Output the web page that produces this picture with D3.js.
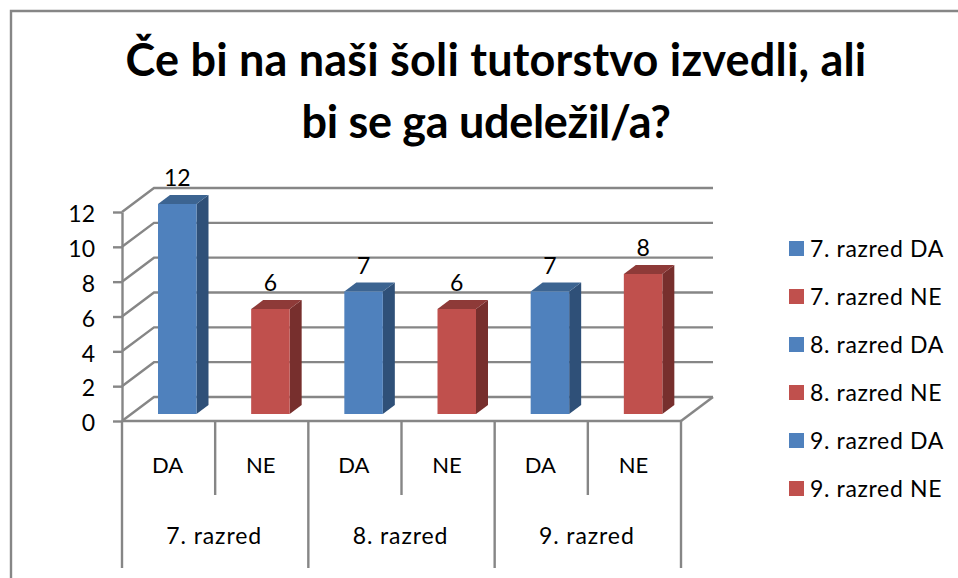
<!DOCTYPE html>
<html>
<head>
<meta charset="utf-8">
<script src="https://cdn.jsdelivr.net/npm/d3@7"></script>
<style>
    html, body { margin: 0; padding: 0; background: #fff; }
    svg { display: block; }
    text { font-family: Lato, "Open Sans", sans-serif; fill: #000; }
    .title { font-size: 45px; font-weight: 700; text-anchor: middle; }
    .lbl { font-size: 23px; text-anchor: middle; }
    .grade { letter-spacing: 0.9px; }
    .answer { font-size: 22px; }
    .leg { font-size: 23px; letter-spacing: 0.65px; }
    .grid, .frame, .xline { stroke: #868686; stroke-width: 2.4; fill: none; }
    .y-axis text { font-size: 23px; }
    .y-axis line, .y-axis path { stroke: #868686; stroke-width: 2.4; }
</style>
</head>
<body>
<svg id="chart" width="958" height="578"></svg>
<script>
var titleLines = ["Če bi na naši šoli tutorstvo izvedli, ali", "bi se ga udeležil/a?"];
var grades = ["7. razred", "8. razred", "9. razred"];
var answers = ["DA", "NE", "DA", "NE", "DA", "NE"];
var seriesNames = ["7. razred DA", "7. razred NE", "8. razred DA", "8. razred NE", "9. razred DA", "9. razred NE"];
var values = [12, 6, 7, 6, 7, 8];
var yTicks = [0, 2, 4, 6, 8, 10, 12];

var colors = {
    DA: {front: "#4f81bd", top: "#3c6491", side: "#2f5078"},
    NE: {front: "#c0504d", top: "#8e3a38", side: "#772f2d"}
};

var svg = d3.select("#chart");

// outer frame, only top and left are inside the crop
svg.append("path").attr("class", "frame").attr("d", "M11,578V11H958");

svg.selectAll(".title")
    .data(titleLines)
    .enter().append("text")
    .attr("class", "title")
    .attr("x", function (d, i) { return i ? 486 : 496; })
    .attr("y", function (d, i) { return i ? 138 : 76; })
    .style("letter-spacing", function (d, i) { return i ? "-0.3px" : "0.2px"; })
    .text(function (d) { return d; });

var margin = {left: 122, right: 681, top: 212, bottom: 421},
    depthX = 32,
    depthY = 24;

var x = d3.scaleBand()
    .domain(d3.range(values.length))
    .range([margin.left, margin.right]);

var y = d3.scaleLinear()
    .domain([0, 12])
    .range([margin.bottom, margin.top]);

// bars stand a little inside the floor so they get their own scale
var yBar = d3.scaleLinear()
    .domain([0, 12])
    .range([414, 204]);

var barOffset = 36, barWidth = 38.5, barDx = 12, barDy = 9;

var g = svg.append("g");

// back wall lines and the diagonals on the side wall
var grid = g.append("g");
yTicks.forEach(function (t) {
    grid.append("path")
        .attr("class", "grid")
        .attr("d", "M" + margin.left + "," + y(t) +
            "L" + (margin.left + depthX) + "," + (y(t) - depthY) +
            "H" + (margin.right + depthX));
});
grid.append("path")
    .attr("class", "grid")
    .attr("d", "M" + margin.right + "," + y(0) + "l" + depthX + "," + (-depthY));

// bars
var bar = g.selectAll(".bar")
    .data(values)
    .enter().append("g")
    .attr("class", "bar");

function barColor(i) { return colors[answers[i]]; }

bar.append("path")
    .attr("fill", function (d, i) { return barColor(i).side; })
    .attr("d", function (d, i) {
        var x1 = x(i) + barOffset + barWidth;
        return "M" + x1 + "," + yBar(d) + "l" + barDx + "," + (-barDy) +
            "V" + (yBar(0) - barDy) + "l" + (-barDx) + "," + barDy + "Z";
    });

bar.append("path")
    .attr("fill", function (d, i) { return barColor(i).top; })
    .attr("d", function (d, i) {
        var x0 = x(i) + barOffset;
        return "M" + x0 + "," + yBar(d) + "l" + barDx + "," + (-barDy) +
            "h" + barWidth + "l" + (-barDx) + "," + barDy + "Z";
    });

bar.append("rect")
    .attr("fill", function (d, i) { return barColor(i).front; })
    .attr("x", function (d, i) { return x(i) + barOffset; })
    .attr("y", function (d) { return yBar(d); })
    .attr("width", barWidth)
    .attr("height", function (d) { return yBar(0) - yBar(d); });

bar.append("text")
    .attr("class", "lbl")
    .attr("x", function (d, i) { return x(i) + barOffset + barWidth / 2; })
    .attr("y", function (d) { return yBar(d) - 18; })
    .text(function (d) { return d; });

// y axis
var yAxis = d3.axisLeft(y)
    .tickValues(yTicks)
    .tickSize(9)
    .tickSizeOuter(0)
    .tickPadding(18);

g.append("g")
    .attr("class", "y-axis")
    .attr("transform", "translate(" + margin.left + ",0)")
    .call(yAxis)
    .selectAll("text")
    .attr("dy", "0.42em");

// category axis, two levels
var xLines = g.append("g");
xLines.append("path")
    .attr("class", "xline")
    .attr("d", "M" + margin.left + "," + y(0) + "H" + margin.right);

answers.forEach(function (a, i) {
    xLines.append("line")
        .attr("class", "xline")
        .attr("x1", x(i) + x.bandwidth())
        .attr("x2", x(i) + x.bandwidth())
        .attr("y1", y(0))
        .attr("y2", (i + 1) % 2 ? 495 : 568);

    g.append("text")
        .attr("class", "lbl answer")
        .attr("x", x(i) + x.bandwidth() / 2 - 1)
        .attr("y", 473)
        .text(a);
});

xLines.append("line")
    .attr("class", "xline")
    .attr("x1", margin.left)
    .attr("x2", margin.left)
    .attr("y1", y(0))
    .attr("y2", 568);

grades.forEach(function (c, i) {
    g.append("text")
        .attr("class", "lbl grade")
        .attr("x", x(i * 2) + x.bandwidth() - 1)
        .attr("y", 544)
        .text(c);
});

// legend
var legend = svg.selectAll(".legend-row")
    .data(seriesNames)
    .enter().append("g")
    .attr("class", "legend-row")
    .attr("transform", function (d, i) { return "translate(789," + (241 + i * 48) + ")"; });

legend.append("rect")
    .attr("width", 15)
    .attr("height", 15)
    .attr("fill", function (d, i) { return colors[answers[i]].front; });

legend.append("text")
    .attr("class", "leg")
    .attr("x", 21)
    .attr("y", 15.5)
    .text(function (d) { return d; });
</script>
</body>
</html>
